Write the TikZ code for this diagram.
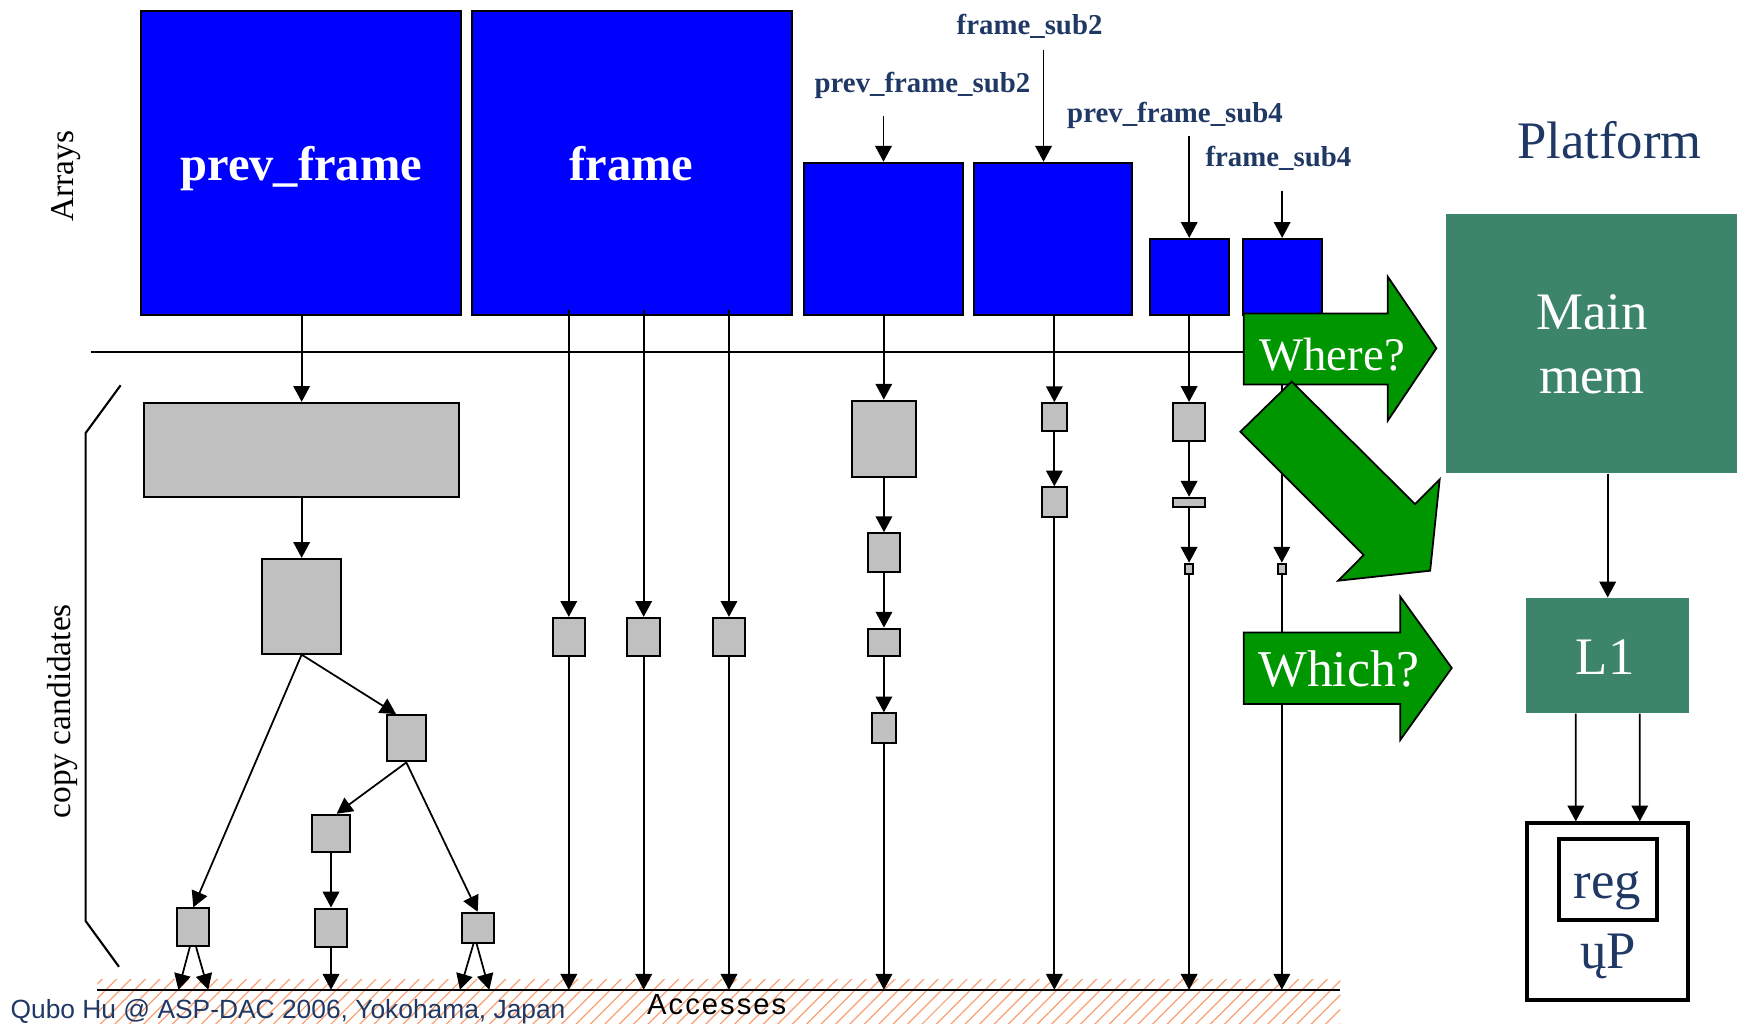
\documentclass[tikz,border=0pt]{standalone}
\usepackage{fontspec}
\setmainfont{Liberation Serif}
\setsansfont{Liberation Sans}
\newfontfamily\accfont{Liberation Sans}[LetterSpace=7]
\usepackage{tikz}
\usetikzlibrary{arrows.meta, calc, fit, patterns.meta}

\definecolor{navy}{RGB}{31,56,100}
\definecolor{arrblue}{RGB}{0,0,255}
\definecolor{candgray}{RGB}{192,192,192}
\definecolor{memgreen}{RGB}{60,132,106}
\definecolor{askgreen}{RGB}{0,150,0}
\definecolor{hatchorange}{RGB}{248,160,115}

\tikzset{
	arraybox/.style = {draw, fill=arrblue, line width=0.6pt, inner sep=0pt},
	candbox/.style = {draw, fill=candgray, line width=0.6pt, inner sep=0pt},
	membox/.style = {fill=memgreen, inner sep=0pt},
	cpubox/.style = {draw, line width=1.1pt, inner sep=0pt},
	link/.style = {-{Triangle[length=4.5pt, width=4.7pt]}, line width=0.5pt},
	ask/.style = {draw, fill=askgreen, line width=0.5pt},
	arrtext/.style = {text=white, font=\bfseries\fontsize{13.8}{16}\selectfont, inner sep=0pt},
	subtext/.style = {text=navy, font=\bfseries\fontsize{8.2}{10}\selectfont, inner sep=0pt},
	bigtext/.style = {font=\fontsize{15}{18.3}\selectfont, inner sep=0pt},
	sidetext/.style = {rotate=90, font=\fontsize{9.5}{11}\selectfont, inner sep=0pt},
}

\begin{document}
\begin{tikzpicture}[x=0.11078mm, y=-0.11078mm]
	\useasboundingbox (0,0) rectangle (1568,924);

	% accesses strip
	\fill[pattern={Lines[angle=45, distance=2.9pt, line width=0.35pt]}, pattern color=hatchorange]
		(88,884) rectangle (1210,924);
	\coordinate (acc) at (0,893.5);
	\draw[line width=0.6pt] (88,893.5) -- (1210,893.5);

	% arrays
	\node[arraybox, fit={(127,10) (416,284)}] (prev) {};
	\node[arraybox, fit={(426,10) (715,284)}] (frame) {};
	\node[arraybox, fit={(726,147) (869,284)}] (pfs2) {};
	\node[arraybox, fit={(879,147) (1022,284)}] (fs2) {};
	\node[arraybox, fit={(1038,215.7) (1109,284.4)}] (pfs4) {};
	\node[arraybox, fit={(1121.8,215.7) (1193,284.4)}] (fs4) {};
	\node[arrtext, anchor=base] (prevname) at (272,162.5) {prev\_frame};
	\node[arrtext, anchor=base] (framename) at (570,162.5) {frame};

	\node[subtext, anchor=base] (pfs2name) at (832.7,83.3) {prev\_frame\_sub2};
	\node[subtext, anchor=base] (fs2name) at (929.4,31.6) {frame\_sub2};
	\node[subtext, anchor=base] (pfs4name) at (1060.7,110.4) {prev\_frame\_sub4};
	\node[subtext, anchor=base] (fs4name) at (1154,150.5) {frame\_sub4};
	\coordinate (pfs2in) at (797.5,104.7);
	\coordinate (fs2in) at (942,45);
	\coordinate (pfs4in) at (1073.5,122.8);
	\coordinate (fs4in) at (1157.4,172);
	\draw[link] (pfs2in) -- (pfs2.north);
	\draw[link] (fs2in) -- (fs2in |- fs2.north);
	\draw[link] (pfs4in) -- (pfs4.north);
	\draw[link] (fs4in) -- (fs4.north);

	\node[sidetext] (arrays) at (60,159) {Arrays};
	\draw[line width=0.5pt] (82,317.5) -- (1123,317.5);

	% copy candidates
	\node[sidetext] (copycand) at (56,642) {copy candidates};
	\draw[line width=0.6pt] (108.9,347.8) -- (77.3,390.9) -- (77.3,831.4) -- (107.4,872.7);

	\foreach \n/\xa/\ya/\xb/\yb in {
		big/130/363.7/414.6/449, s1/236.8/504.6/307.8/590,
		s2/349.3/645.6/384.3/687.3, s3/281.4/735.5/316.2/769.4,
		a/160/820/189/854, b/284.4/820.2/313.2/854.9, c/416.8/824/445.6/851,
		f1/498.9/557.8/528/592.4, f2/566.3/557.8/595.8/592.4, f3/643.3/557.8/672.8/592.4,
		p1/769/361.7/826.6/430.6, p2/783.5/481.4/812.4/516.3,
		p3/783.5/567.5/812.4/592.4, p4/786.8/644/809/671,
		q1/940.6/364/962.9/388.8, q2/940.6/440/962.9/466.4,
		r1/1059/363.8/1087.8/398, r2/1059/449.4/1087.8/457.7, r3/1069.5/508.9/1077.3/518.5,
		t1/1153.3/508.9/1160.9/518.5}
		\node[candbox, fit={(\xa,\ya) (\xb,\yb)}] (\n) {};

	% prev_frame tree
	\draw[link] (big.north |- prev.south) -- (big.north);
	\draw[link] (big.south) -- (s1.north);
	\draw[link] (s1.south) -- ($(s2.north west)!0.25!(s2.north east)$);
	\draw[link] (s1.south) -- (a.north);
	\draw[link] (s2.south) -- ([xshift=1.6pt]s3.north);
	\draw[link] (s2.south) -- (c.north);
	\draw[link] (s3.south) -- (b.north);
	\draw[link] ([xshift=-1pt]a.south) -- ($(a.south |- acc)+(-13.5,0)$);
	\draw[link] ([xshift=0.8pt]a.south) -- ($(a.south |- acc)+(13.5,0)$);
	\draw[link] (b.south) -- (b.south |- acc);
	\draw[link] ([xshift=-1.2pt]c.south) -- ($(c.south |- acc)+(-16,0)$);
	\draw[link] ([xshift=-0.3pt]c.south) -- ($(c.south |- acc)+(10.5,0)$);

	% frame is read straight
	\foreach \n in {f1, f2, f3} {
		\draw[link] ($(\n.north |- frame.south)+(0,-5)$) -- (\n.north);
		\draw[link] (\n.south) -- (\n.south |- acc);
	}

	% sub-sampled arrays
	\foreach \src/\dst in {pfs2/p1, p1/p2, p2/p3, p3/p4, fs2/q1, q1/q2,
			pfs4/r1, r1/r2, r2/r3, fs4/t1}
		\draw[link] (\dst.north |- \src.south) -- (\dst.north);
	\foreach \n in {p4, q2, r3, t1}
		\draw[link] (\n.south) -- (\n.south |- acc);

	% questions
	\filldraw[ask] (1122.8,283) -- (1252.7,283) -- (1252.7,249.7) -- (1296.6,314.4)
		-- (1252.7,379.8) -- (1252.7,347) -- (1122.8,347) -- cycle;
	\filldraw[ask] (1166,344.5) -- (1277.3,455) -- (1299.6,432.7) -- (1291,515.2)
		-- (1208,524.2) -- (1231,501) -- (1119.7,389.7) -- cycle;
	\filldraw[ask] (1122.8,571) -- (1264,571) -- (1264,538.6) -- (1310.5,603)
		-- (1264,668) -- (1264,635.5) -- (1122.8,635.5) -- cycle;
	\node[text=white, font=\fontsize{13.3}{16}\selectfont, inner sep=0pt, anchor=base] (where) at (1202.5,334.6) {Where?};
	\node[text=white, font=\fontsize{14.7}{17}\selectfont, inner sep=0pt, anchor=base] (which) at (1208.4,620) {Which?};

	% platform
	\node[bigtext, text=navy, anchor=base] (platform) at (1453,143) {Platform};
	\node[membox, fit={(1305,193) (1568,427)}] (mainmem) {};
	\node[membox, fit={(1377.5,540) (1525,643.5)}] (l1) {};
	\node[cpubox, fit={(1378.7,743.2) (1524,902.7)}] (up) {};
	\node[cpubox, fit={(1407.6,757.6) (1495.5,830.5)}] (reg) {};
	\node[bigtext, text=white, align=center] (memname) at (1437,311) {Main\\mem};
	\node[bigtext, text=white, anchor=base] (l1name) at (1449,609.3) {L1};
	\node[bigtext, text=navy, anchor=base] (regname) at (1451,811) {reg};
	\node[bigtext, text=navy, anchor=base] (upname) at (1451.7,874) {ųP};
	\draw[link] (l1.north |- mainmem.south) -- (l1.north);
	\draw[link] ([xshift=-9.1pt]l1.south) -- ([xshift=-9.1pt]up.north);
	\draw[link] ([xshift=9.1pt]l1.south) -- ([xshift=9.1pt]up.north);

	% footer
	\node[text=navy, font=\sffamily\fontsize{7.5}{9}\selectfont, inner sep=0pt, anchor=base west] (credit) at (9,919) {Qubo Hu @ ASP-DAC 2006, Yokohama, Japan};
	\node[font=\accfont\fontsize{8.3}{10}\selectfont, inner sep=0pt, anchor=base] (accesses) at (647,915.6) {Accesses};
\end{tikzpicture}
\end{document}
